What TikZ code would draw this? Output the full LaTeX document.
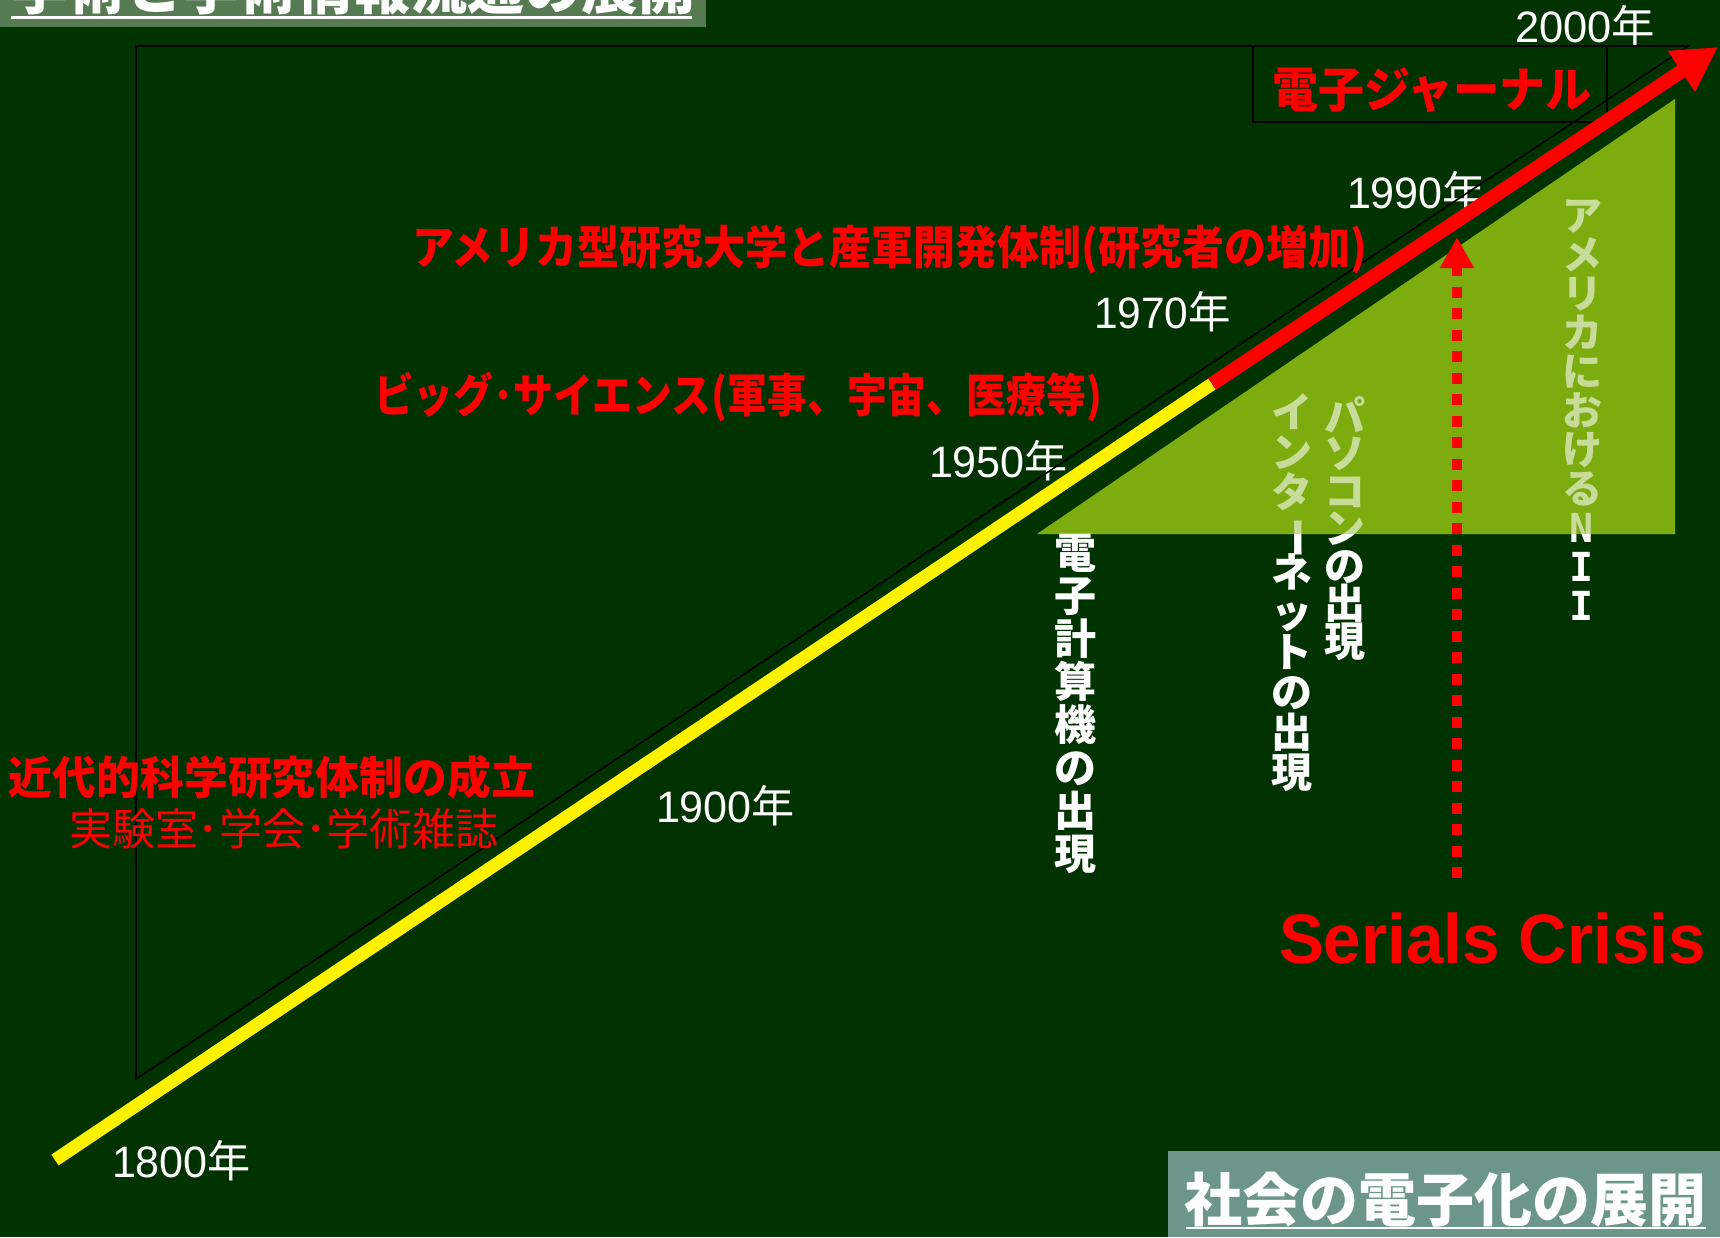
\documentclass[tikz,border=0pt]{standalone}
\usepackage{fontspec}
\usepackage{graphicx}
\setmainfont{Liberation Sans}
\newfontfamily\jp{Noto Sans CJK JP}
\newfontfamily\dvm{DejaVu Sans Mono}
\usetikzlibrary{arrows.meta}
\definecolor{bg}{RGB}{0,51,0}
\definecolor{trig}{RGB}{124,172,14}
\definecolor{tbox}{RGB}{86,122,82}
\definecolor{bbox}{RGB}{108,150,138}
\newcommand\fitw[2]{\resizebox{#1}{\height}{#2}}
\newcommand\fs[1]{\fontsize{#1}{#1}\selectfont}
\newcommand\yr[2]{\fitw{#2}{\fs{44}#1{\jp 年}}}
\lineskiplimit=-200pt
\begin{document}
\begin{tikzpicture}[x=1pt,y=-1pt,
  lbl/.style={inner sep=0pt, outer sep=0pt},
  year/.style={lbl, anchor=base west, text=white},
  redlbl/.style={lbl, anchor=base west, text=red, font=\jp\bfseries},
  vtxt/.style={lbl, anchor=north, align=center, text=white},
  outline/.style={draw=black, line width=1.6pt},
]
\useasboundingbox (0,0) rectangle (1720,1237);
\fill[bg] (0,0) rectangle (1720,1237);

% title boxes
\fill[tbox] (0,0) rectangle (706,27);
\node[lbl, anchor=base west, text=white, font=\jp\bfseries\fs{57}] (t1) at (11,9) {学術と学術情報流通の展開};
\draw[white, line width=3pt] (11,17) -- (692,17);
\fill[bbox] (1168,1151) rectangle (1720,1237);
\node[lbl, anchor=base west, text=white, font=\jp\bfseries\fs{58}] (t2) at (1184,1221) {社会の電子化の展開};
\draw[white, line width=2.5pt] (1186,1228) -- (1706,1228);

% green triangle and vertical texts
\fill[trig] (1037,534) -- (1675,534) -- (1675,99) -- cycle;
\node[vtxt, font=\jp\bfseries\fontsize{42}{43}\selectfont] (v1) at (1075,534) {電\\子\\計\\算\\機\\の\\出\\現};
\node[vtxt, font=\jp\bfseries\fontsize{41}{40}\selectfont] (v2) at (1292,394) {イ\\ン\\タ\\\rotatebox[origin=c]{-90}{ー}\\ネ\\ッ\\ト\\の\\出\\現};
\node[vtxt, font=\jp\bfseries\fontsize{41}{37.5}\selectfont] (v3) at (1345,396) {パ\\ソ\\コ\\ン\\の\\出\\現};
\node[vtxt, font=\jp\bfseries\fontsize{40}{39}\selectfont] (v4) at (1582,200) {ア\\メ\\リ\\カ\\に\\お\\け\\る\\{\dvm\bfseries N}\\{\dvm\bfseries I}\\{\dvm\bfseries I}};
\fill[trig, opacity=0.42] (1037,534) -- (1675,534) -- (1675,99) -- cycle;

% years
\node[year] (y1800) at (112,1177) {\yr{1800}{139pt}};
\node[year] (y1900) at (656,822) {\yr{1900}{139pt}};
\node[year] (y1950) at (929,477) {\yr{1950}{139pt}};
\node[year] (y1970) at (1094,328) {\yr{1970}{137pt}};
\node[year] (y1990) at (1347,208) {\yr{1990}{139pt}};
\node[year] (y2000) at (1515,42) {\yr{2000}{140pt}};

% outline triangle and journal box
\draw[outline] (136,46) -- (1688,46) -- (136,1079) -- cycle;
\draw[outline] (1593,122) -- (1253,122) -- (1253,46) -- (1607,46) -- (1607,112);

% main time line
\coordinate (ys) at (55,1160);
\coordinate (ym) at (1212,384);
\coordinate (rt) at (1718,47);
\draw[yellow, line width=13pt] (ys) -- (ym);
\coordinate (ds) at (1457,878);
\coordinate (de) at (1457,237);
\draw[red, line width=10pt, dash pattern=on 11pt off 10.5pt, -{Triangle[length=31pt,width=32pt]}] (ds) -- (de);
\draw[red, line width=14pt, -{Triangle[length=44pt,width=46pt]}] (ym) -- (rt);

% red labels
\node[redlbl] (ej) at (1272,107) {\fitw{320pt}{\fs{48}電子ジャーナル}};
\node[redlbl] (amer) at (412,264) {\fitw{955pt}{\fs{46}アメリカ型研究大学と産軍開発体制(研究者の増加)}};
\node[redlbl] (big) at (374,412) {\fitw{728pt}{\fs{46}ビッグ･サイエンス(軍事、宇宙、医療等)}};
\node[redlbl] (kindai) at (9,794) {\fitw{526pt}{\fs{45}近代的科学研究体制の成立}};
\node[lbl, anchor=base west, text=red, font=\jp] (jikken) at (69,845) {\fitw{430pt}{\fs{44}実験室･学会･学術雑誌}};
\node[lbl, anchor=base west, text=red, font=\bfseries] (sc) at (1279,963) {\fitw{427pt}{\fs{70}Serials Crisis}};
\end{tikzpicture}
\end{document}
